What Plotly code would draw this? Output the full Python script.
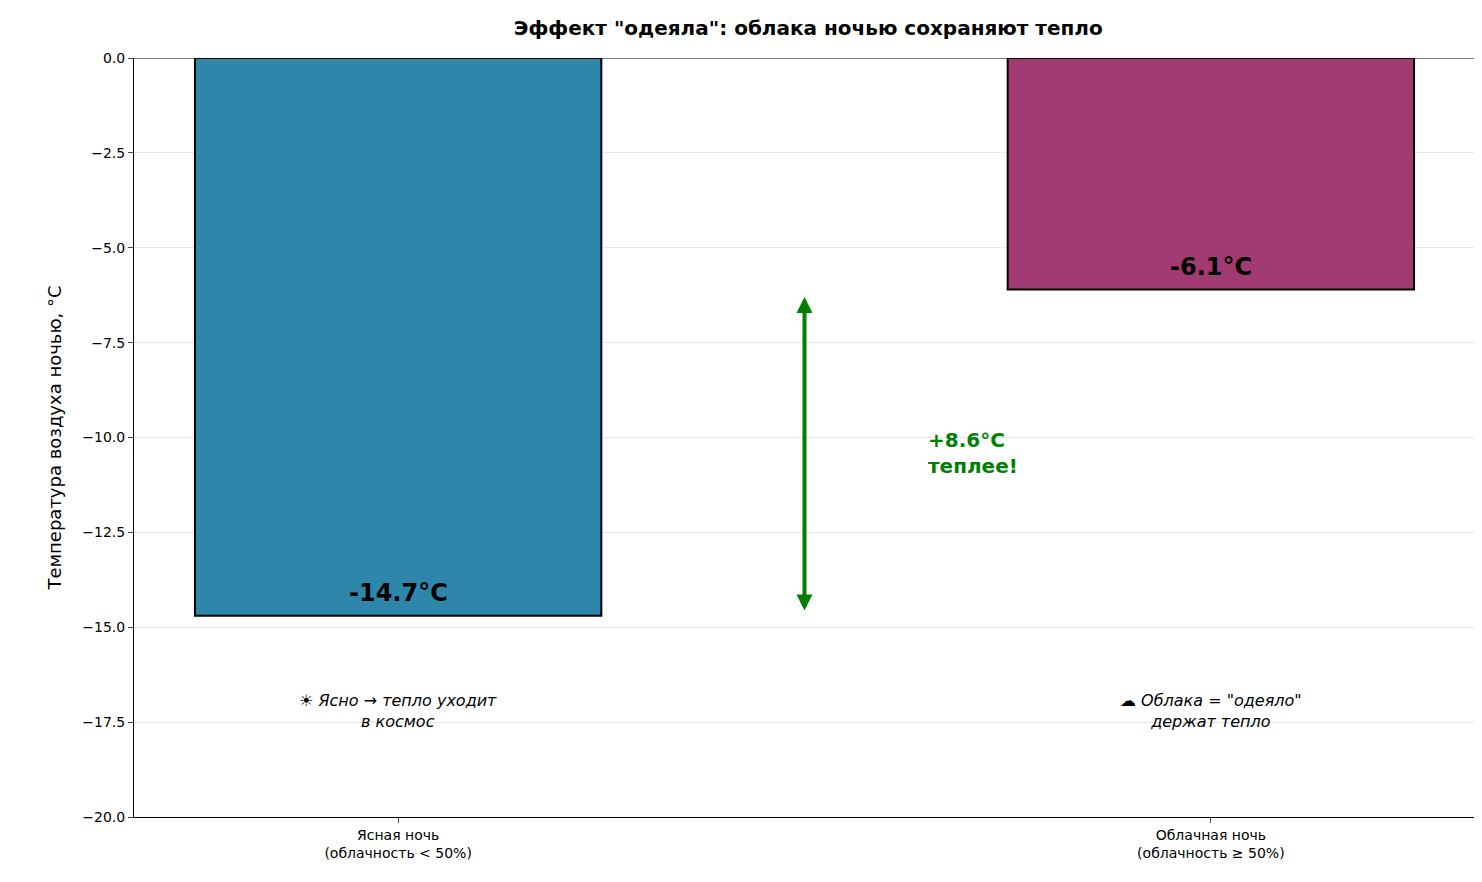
import plotly.graph_objects as go

categories = ["Ясная ночь<br>(облачность < 50%)", "Облачная ночь<br>(облачность ≥ 50%)"]
temps = [-14.7, -6.1]
colors = ["#2E86AB", "#A23B72"]
notes = ["☀ <i>Ясно → тепло уходит<br>в космос</i>", "☁ <i>Облака = \"одеяло\"<br>держат тепло</i>"]
diff = temps[1] - temps[0]

fig = go.Figure(go.Bar(
    x=[0, 1], y=temps, width=0.5,
    marker=dict(color=colors, line=dict(color="black", width=2)),
))

for i, t in enumerate(temps):
    fig.add_annotation(x=i, y=t + 0.6, text=f"<b>{t:.1f}°C</b>", showarrow=False,
                       font=dict(size=24, color="black"))
    fig.add_annotation(x=i, y=-17.2, text=notes[i], showarrow=False,
                       font=dict(size=16, color="black"))

# double-headed arrow between the two bars
fig.add_annotation(x=0.5, y=temps[1] - 0.2, ax=0.5, ay=temps[0] + 0.1,
                   xref="x", yref="y", axref="x", ayref="y", text="",
                   showarrow=True, arrowhead=2, startarrowhead=2, arrowside="end+start",
                   arrowwidth=4, arrowcolor="green", arrowsize=0.8, startarrowsize=0.8)
fig.add_annotation(x=0.65, y=-10.4, text=f"<b>+{diff:.1f}°C<br>теплее!</b>", showarrow=False,
                   xanchor="left", align="left", font=dict(size=20, color="green"))

fig.update_layout(
    width=1482, height=882,
    paper_bgcolor="white", plot_bgcolor="white",
    font=dict(family="DejaVu Sans", color="black"),
    title=dict(text="<b>Эффект \"одеяла\": облака ночью сохраняют тепло</b>",
               x=0.54, xanchor="center", y=0.985, yanchor="top", font=dict(size=20)),
    margin=dict(l=126, r=15, t=50, b=73),
    showlegend=False,
)
fig.update_xaxes(range=[-0.325, 1.325], tickvals=[0, 1], ticktext=categories,
                 showline=True, linecolor="black", ticks="outside", tickfont=dict(size=14),
                 showgrid=False)
fig.update_yaxes(range=[-20, 0], dtick=2.5, tickformat=".1f", showline=True, linecolor="black",
                 ticks="outside", gridcolor="#e6e6e6", zeroline=True, zerolinecolor="gray",
                 zerolinewidth=1, tickfont=dict(size=14),
                 title=dict(text="Температура воздуха ночью, °C", font=dict(size=18)))

fig.write_html("out.html")
